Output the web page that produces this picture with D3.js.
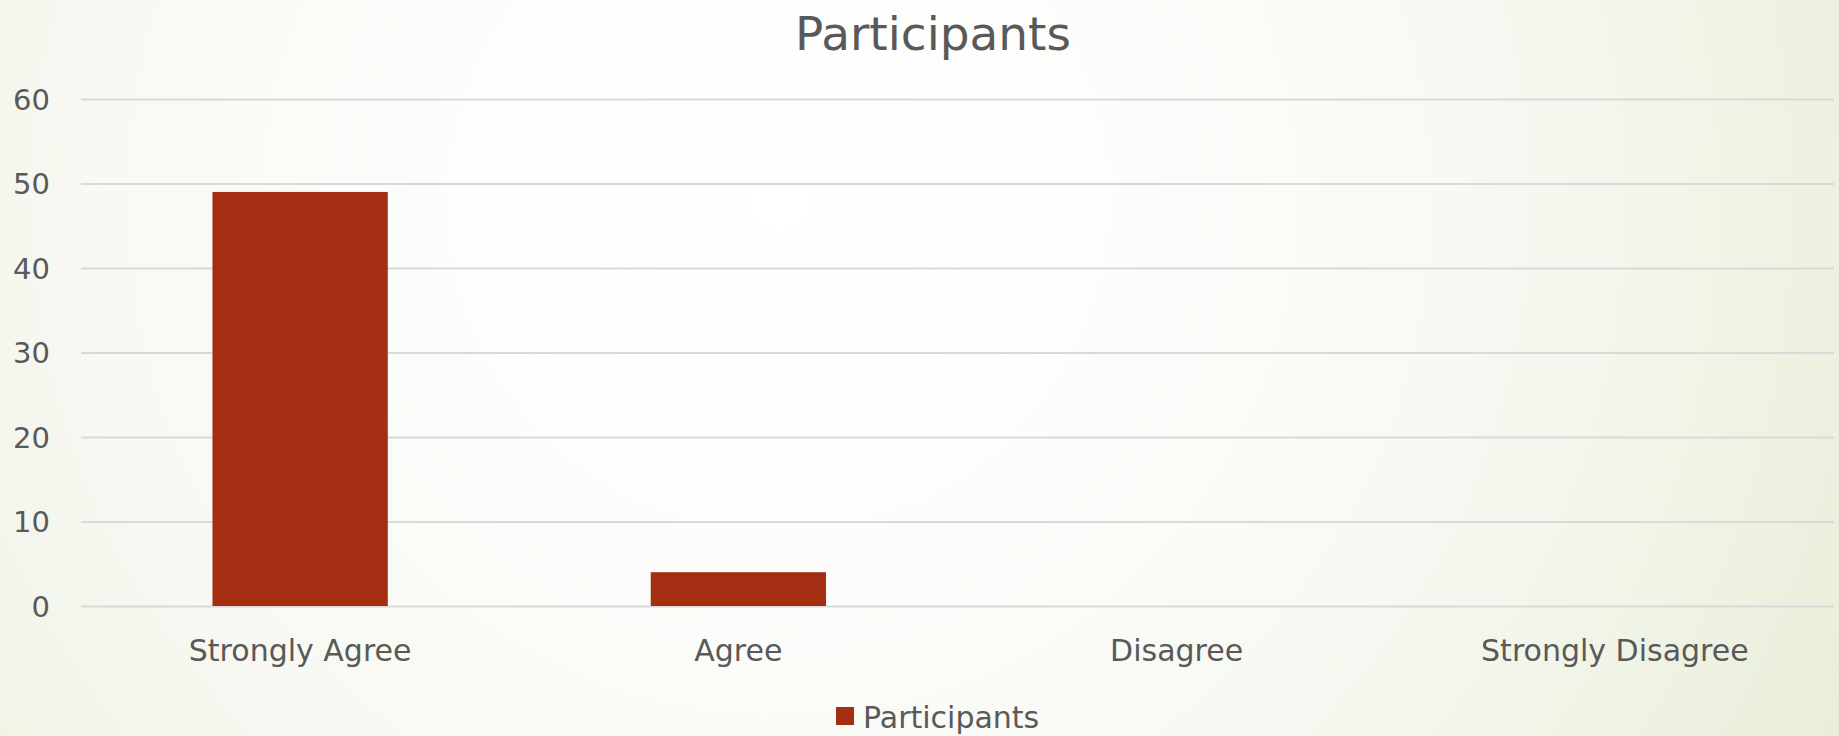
<!DOCTYPE html>
<html>
<head>
<meta charset="utf-8">
<script src="https://cdn.jsdelivr.net/npm/d3@7"></script>
<style>
  html, body { margin: 0; padding: 0; overflow: hidden; }
  svg { display: block; }
  text { font-family: "DejaVu Sans", "Noto Sans", sans-serif; fill: #595959; }
</style>
</head>
<body>
<script>
const categories = ["Strongly Agree", "Agree", "Disagree", "Strongly Disagree"];
const participants = [49, 4, 0, 0];
const yTicks = [0, 10, 20, 30, 40, 50, 60];
const seriesName = "Participants";
const chartTitle = "Participants";

const W = 1839, H = 736;
const margin = { left: 81, right: 5, top: 99, bottom: 130 };

const svg = d3.select("body").append("svg").attr("width", W).attr("height", H);

const defs = svg.append("defs");
const grad = defs.append("radialGradient")
  .attr("id", "bg").attr("gradientUnits", "userSpaceOnUse")
  .attr("cx", 780).attr("cy", 200).attr("r", 1200);
grad.append("stop").attr("offset", "0").attr("stop-color", "#ffffff");
grad.append("stop").attr("offset", "0.35").attr("stop-color", "#fcfdfa");
grad.append("stop").attr("offset", "0.65").attr("stop-color", "#f5f7ef");
grad.append("stop").attr("offset", "0.85").attr("stop-color", "#eef2e2");
grad.append("stop").attr("offset", "1").attr("stop-color", "#e8eed8");
svg.append("rect").attr("width", W).attr("height", H).attr("fill", "url(#bg)");

const x = d3.scaleBand().domain(categories)
  .range([margin.left, W - margin.right])
  .paddingInner(0.6).paddingOuter(0.3);
const y = d3.scaleLinear().domain([0, 60]).range([H - margin.bottom, margin.top]);

// gridlines
const yAxis = d3.axisLeft(y).tickValues(yTicks).tickSize(-(W - margin.right - margin.left)).tickPadding(31);
const gy = svg.append("g").attr("transform", `translate(${margin.left},0)`).call(yAxis);
gy.select(".domain").remove();
gy.selectAll(".tick line").attr("stroke", "#d9d9d9").attr("stroke-width", 2);
gy.selectAll(".tick text").attr("font-size", 29).attr("fill", "#595959")
  .attr("dy", "0.36em").style("font-family", '"DejaVu Sans", sans-serif');

// bars
svg.append("g").selectAll("rect").data(categories).join("rect")
  .attr("x", d => x(d))
  .attr("width", x.bandwidth())
  .attr("y", (d, i) => y(participants[i]))
  .attr("height", (d, i) => y(0) - y(participants[i]))
  .attr("fill", "#a32e12");

// x axis labels
const xAxis = d3.axisBottom(x).tickSize(0).tickPadding(0);
const gx = svg.append("g").attr("transform", `translate(0,${y(0)})`).call(xAxis);
gx.select(".domain").remove();
gx.selectAll(".tick text").attr("font-size", 30).attr("fill", "#595959")
  .attr("dy", null).attr("y", 55).style("font-family", '"DejaVu Sans", sans-serif');

// title
svg.append("text").attr("x", 933).attr("y", 50).attr("text-anchor", "middle")
  .attr("font-size", 47).text(chartTitle);

// legend
const lg = svg.append("g");
lg.append("rect").attr("x", 836).attr("y", 707).attr("width", 18).attr("height", 18).attr("fill", "#a32e12");
lg.append("text").attr("x", 863).attr("y", 728).attr("font-size", 30).text(seriesName);
</script>
</body>
</html>
